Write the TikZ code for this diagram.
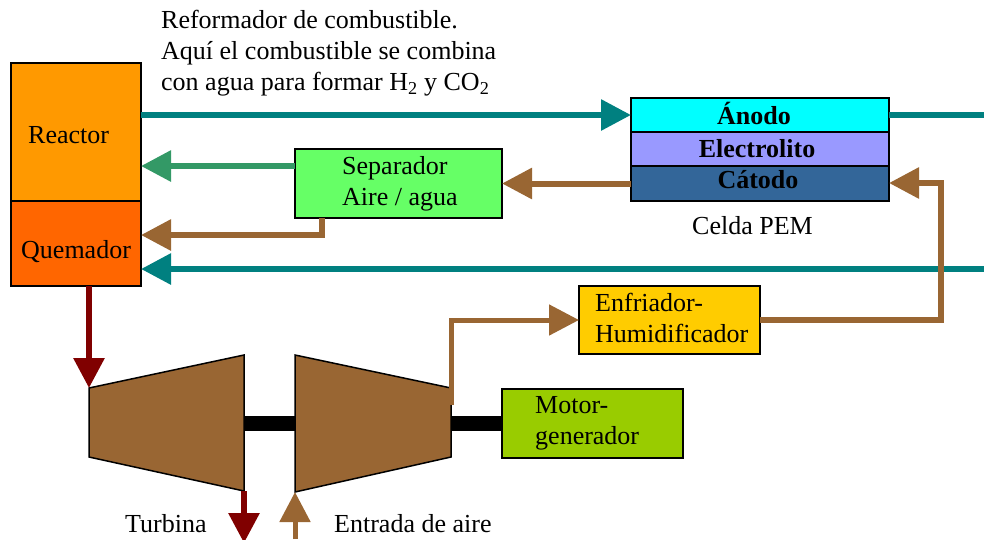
\documentclass[tikz,border=0pt]{standalone}
\usepackage{fontspec}
\setmainfont{Liberation Serif}
\usetikzlibrary{arrows.meta}
\definecolor{tealflow}{HTML}{008080}
\definecolor{brownflow}{HTML}{996633}
\definecolor{greenflow}{HTML}{339966}
\definecolor{redflow}{HTML}{800000}
\begin{document}
\begin{tikzpicture}[
                x=1pt, y=-1pt,
                box/.style={draw, line width=1.5pt, anchor=north west, inner sep=0pt, outer sep=0pt},
                lbl/.style={anchor=west, inner sep=0pt, align=left, font=\fontsize{26}{31}\selectfont},
                bold/.style={anchor=center, inner sep=0pt, font=\fontsize{26}{31}\selectfont\bfseries},
                flow/.style={line width=6pt, -{Triangle[length=30pt,width=30pt]}},
                plain/.style={line width=6pt},
                machine/.style={draw, line width=1.5pt, fill=brownflow, line join=miter}
            ]
            \useasboundingbox (0,0) rectangle (984,539);

            % Boxes
            \node[box, fill={rgb,255:red,255;green,153;blue,0}, minimum width=130pt, minimum height=138pt] (reactor) at (11,63) {};
            \node[box, fill={rgb,255:red,255;green,102;blue,0}, minimum width=130pt, minimum height=85pt] (quemador) at (11,201) {};
            \node[box, fill={rgb,255:red,102;green,255;blue,102}, minimum width=207pt, minimum height=69pt] (separador) at (295,149) {};
            \node[box, fill={rgb,255:red,0;green,255;blue,255}, minimum width=258pt, minimum height=34pt] (anodo) at (631,98) {};
            \node[box, fill={rgb,255:red,153;green,153;blue,255}, minimum width=258pt, minimum height=34pt] (electrolito) at (631,132) {};
            \node[box, fill={rgb,255:red,51;green,102;blue,153}, minimum width=258pt, minimum height=35pt] (catodo) at (631,166) {};
            \node[box, fill={rgb,255:red,255;green,204;blue,0}, minimum width=181pt, minimum height=68pt] (enfriador) at (579,286) {};
            \node[box, fill={rgb,255:red,153;green,204;blue,0}, minimum width=181pt, minimum height=69pt] (motor) at (502,389) {};

            % Free ends
            \coordinate (salida) at (984,115);
            \coordinate (retorno) at (984,269);
            \coordinate (sepagua) at (295,166);
            \coordinate (sepaire) at (322,218);
            \coordinate (codoaire) at (322,235);
            \coordinate (codocat) at (941,320);
            \coordinate (catin) at (941,183);
            \coordinate (compout) at (451,405);
            \coordinate (codocomp) at (451,320);
            \coordinate (quemout) at (89,286);
            \coordinate (turbin) at (89,388);
            \coordinate (turbout) at (244,491);
            \coordinate (escape) at (244,543);
            \coordinate (aire) at (295,539);
            \coordinate (compin) at (295,492);
            \coordinate (ejea) at (244,423);
            \coordinate (ejeb) at (295,423);
            \coordinate (ejec) at (451,423);

            % Shafts
            \draw[line width=15pt] (ejea) -- (ejeb);
            \draw[line width=15pt] (ejec) -- (ejec -| motor.west);

            % Turbine and compressor
            \draw[machine] (turbin) -- (244,355) -- (turbout) -- (89,457) -- cycle;
            \draw[machine] (295,355) -- (451,388) -- (451,457) -- (compin) -- cycle;

            % Flows
            \draw[flow, tealflow] (reactor.east |- anodo.west) -- (anodo.west);
            \draw[plain, tealflow] (anodo.east) -- (salida);
            \draw[flow, tealflow] (retorno) -- (retorno -| quemador.east);
            \draw[flow, greenflow] (sepagua) -- (sepagua -| reactor.east);
            \draw[flow, brownflow] (catodo.west) -- (catodo.west -| separador.east);
            \draw[flow, brownflow] (sepaire) -- (codoaire) -- (codoaire -| quemador.east);
            \draw[flow, brownflow] (enfriador.east) -- (codocat) -- (catin) -- (catin -| catodo.east);
            \draw[flow, brownflow, line width=5pt] (compout) -- (codocomp) -- (codocomp -| enfriador.west);
            \draw[flow, redflow] (quemout) -- (turbin);
            \draw[flow, redflow] (turbout) -- (escape);
            \draw[flow, brownflow, line width=5pt] (aire) -- (compin);

            % Labels
            \node[lbl] (reformador) at (161,53) {Reformador de combustible.\\Aquí el combustible se combina\\con agua para formar H\textsubscript{2} y CO\textsubscript{2}};
            \node[lbl] (reactortxt) at (28,135) {Reactor};
            \node[lbl] (quemadortxt) at (21,252) {Quemador};
            \node[lbl] (separadortxt) at (342,184) {Separador\\Aire / agua};
            \node[bold] (anodotxt) at (754,113) {Ánodo};
            \node[bold] (electrolitotxt) at (757,149) {Electrolito};
            \node[bold] (catodotxt) at (758,180) {Cátodo};
            \node[lbl] (celdatxt) at (692,226) {Celda PEM};
            \node[lbl] (enfriadortxt) at (595,318) {Enfriador-\\Humidificador};
            \node[lbl] (motortxt) at (535,423) {Motor-\\generador};
            \node[lbl] (turbinatxt) at (125,524) {Turbina};
            \node[lbl] (entradatxt) at (334,524) {Entrada de aire};
        \end{tikzpicture}
\end{document}
